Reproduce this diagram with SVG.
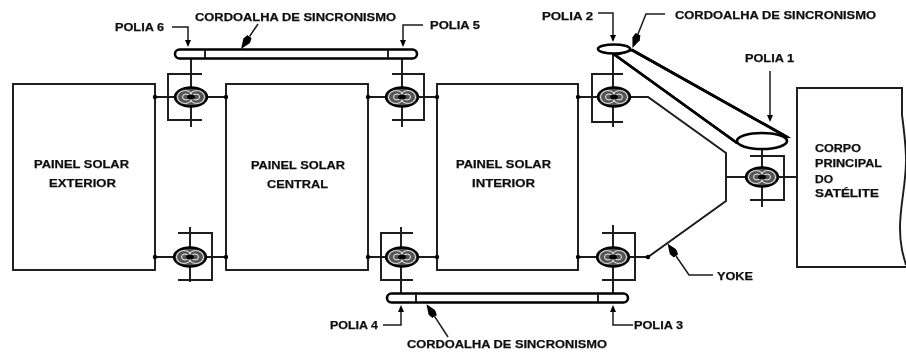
<svg xmlns="http://www.w3.org/2000/svg" width="906" height="358" viewBox="0 0 906 358">
<style>
.l{fill:none;stroke:#1a1a1a;stroke-width:1.9}
.f{fill:none;stroke:#1a1a1a;stroke-width:1.5}
.b{fill:#fff;stroke:#000;stroke-width:2.6}
.t{font-family:"Liberation Sans",Arial,sans-serif;font-weight:700;font-size:11.5px;fill:#111;stroke:#111;stroke-width:0.25}
.d{fill:#000}
</style>
<defs>
<filter id="soft" x="-2%" y="-2%" width="104%" height="104%"><feGaussianBlur stdDeviation="0.6"/></filter>
<marker id="a" markerWidth="7" markerHeight="7" refX="0" refY="3" orient="auto" markerUnits="userSpaceOnUse"><path d="M0 0L7 3L0 6z" fill="#000"/></marker>
<marker id="A" markerWidth="15" markerHeight="8" refX="0" refY="4" orient="auto" markerUnits="userSpaceOnUse"><path d="M0 1.5L5 0L15 4L5 8L0 6.5z" fill="#000"/></marker>
<g id="coil">
<ellipse cx="0" cy="0" rx="16" ry="9.5" fill="#555" stroke="#000" stroke-width="2.4"/>
<ellipse cx="-6" cy="0" rx="7.5" ry="6.5" fill="none" stroke="#ddd" stroke-width="1.1"/>
<ellipse cx="6" cy="0" rx="7.5" ry="6.5" fill="none" stroke="#ddd" stroke-width="1.1"/>
<ellipse cx="-5" cy="0" rx="3.5" ry="3" fill="none" stroke="#eee" stroke-width="1"/>
<ellipse cx="5" cy="0" rx="3.5" ry="3" fill="none" stroke="#eee" stroke-width="1"/>
<ellipse cx="0" cy="0" rx="4" ry="2.5" fill="#000"/>
</g>
</defs>
<rect width="906" height="358" fill="#fff"/>
<g filter="url(#soft)">
<g id="painel-exterior"><rect class="l" x="13" y="84" width="142" height="186"/><text class="t" x="34" y="167.5" textLength="95" lengthAdjust="spacingAndGlyphs">PAINEL SOLAR</text><text class="t" x="49" y="186.5" textLength="67" lengthAdjust="spacingAndGlyphs">EXTERIOR</text></g>
<g id="painel-central"><rect class="l" x="226" y="84" width="142" height="186"/><text class="t" x="251" y="168.5" textLength="94" lengthAdjust="spacingAndGlyphs">PAINEL SOLAR</text><text class="t" x="267" y="187.5" textLength="61" lengthAdjust="spacingAndGlyphs">CENTRAL</text></g>
<g id="painel-interior"><rect class="l" x="437" y="84" width="141" height="186"/><text class="t" x="456" y="167.5" textLength="95" lengthAdjust="spacingAndGlyphs">PAINEL SOLAR</text><text class="t" x="472" y="186.5" textLength="63" lengthAdjust="spacingAndGlyphs">INTERIOR</text></g>
<g id="corpo"><path class="l" d="M906 267H797V88H902V115C904 130 906 145 906 160C906 185 900 205 900 228C900 245 903 255 906 265"/><text class="t" x="815" y="152" textLength="46" lengthAdjust="spacingAndGlyphs">CORPO</text><text class="t" x="815" y="167" textLength="67" lengthAdjust="spacingAndGlyphs">PRINCIPAL</text><text class="t" x="815" y="183" textLength="18" lengthAdjust="spacingAndGlyphs">DO</text><text class="t" x="815" y="197" textLength="64" lengthAdjust="spacingAndGlyphs">SATÉLITE</text></g>
<g id="connectors">
<path class="l" d="M155 97H226M368 97H437M578 97H648L726 153V201L648 257H578M437 257H368M155 257H226M726 177H797"/>
<path class="l" d="M191 57V127M402 57V127M613 52V127M613 225V300M401 227V300M190 227V282M762 146V207"/>
<path class="l" d="M202 74H168V120H202M392 74H424V120H392M623 74H592V122H623M602 233H635V280H602M413 233H381V280H413M178 233H212V280H178M750 156H784V200H750"/>
<g class="d"><circle cx="155" cy="97" r="2.2"/><circle cx="226" cy="97" r="2.2"/><circle cx="368" cy="97" r="2.2"/><circle cx="437" cy="97" r="2.2"/><circle cx="578" cy="97" r="2.2"/><circle cx="155" cy="257" r="2.2"/><circle cx="226" cy="257" r="2.2"/><circle cx="368" cy="257" r="2.2"/><circle cx="437" cy="257" r="2.2"/><circle cx="578" cy="257" r="2.2"/><circle cx="648" cy="257" r="2.2"/></g>
<path class="f" d="M172 27H188V40" marker-end="url(#a)"/>
<path class="f" d="M423 25H403V40" marker-end="url(#a)"/>
<path class="f" d="M598 13H613V35" marker-end="url(#a)"/>
<path class="f" d="M770 71V115" marker-end="url(#a)"/>
<path class="f" d="M383 325H401V312" marker-end="url(#a)"/>
<path class="f" d="M633 325H613V312" marker-end="url(#a)"/>
<path class="f" d="M258 24L249.5 36.5" marker-end="url(#A)"/>
<path class="f" d="M665 14H646L638 34" marker-end="url(#A)"/>
<path class="f" d="M448 337L434.7 316.7" marker-end="url(#A)"/>
<path class="f" d="M713 275H689L676 256" marker-end="url(#A)"/>
</g>
<g id="dobradica-1"><use href="#coil" x="191" y="97"/></g>
<g id="dobradica-2"><use href="#coil" x="402" y="97"/></g>
<g id="dobradica-3"><use href="#coil" x="614" y="97"/></g>
<g id="dobradica-4"><use href="#coil" x="190" y="257"/></g>
<g id="dobradica-5"><use href="#coil" x="402" y="257"/></g>
<g id="dobradica-6"><use href="#coil" x="613" y="257"/></g>
<g id="dobradica-7"><use href="#coil" x="762" y="177"/></g>
<g id="cordoalha-superior"><rect class="b" x="175" y="49.5" width="242" height="9" rx="4.5"/><path class="l" d="M205 50V58M388 50V58"/></g>
<g id="cordoalha-inferior"><rect class="b" x="387" y="293.5" width="241" height="9" rx="4.5"/><path class="l" d="M416 294V302M598 294V302"/></g>
<g id="cordoalha-direita"><path class="b" d="M632 50L787 137L737 143L615 55Z" stroke="none"/><path class="b" d="M632 50L787 137M615 55L737 143" fill="none"/><ellipse class="b" cx="614" cy="49" rx="16" ry="4.5"/><ellipse class="b" cx="762" cy="141" rx="25" ry="8"/></g>
<g id="rotulos">
<text class="t" x="115" y="31" textLength="49" lengthAdjust="spacingAndGlyphs">POLIA 6</text>
<text class="t" x="430" y="29" textLength="50" lengthAdjust="spacingAndGlyphs">POLIA 5</text>
<text class="t" x="542" y="20" textLength="51" lengthAdjust="spacingAndGlyphs">POLIA 2</text>
<text class="t" x="745" y="62" textLength="49" lengthAdjust="spacingAndGlyphs">POLIA 1</text>
<text class="t" x="330" y="329" textLength="48" lengthAdjust="spacingAndGlyphs">POLIA 4</text>
<text class="t" x="634" y="329" textLength="49" lengthAdjust="spacingAndGlyphs">POLIA 3</text>
<text class="t" x="195" y="21" textLength="201" lengthAdjust="spacingAndGlyphs">CORDOALHA DE SINCRONISMO</text>
<text class="t" x="675" y="19" textLength="201" lengthAdjust="spacingAndGlyphs">CORDOALHA DE SINCRONISMO</text>
<text class="t" x="407" y="348" textLength="200" lengthAdjust="spacingAndGlyphs">CORDOALHA DE SINCRONISMO</text>
<text class="t" x="717" y="280" textLength="36" lengthAdjust="spacingAndGlyphs">YOKE</text>
</g>
</g>
</svg>
